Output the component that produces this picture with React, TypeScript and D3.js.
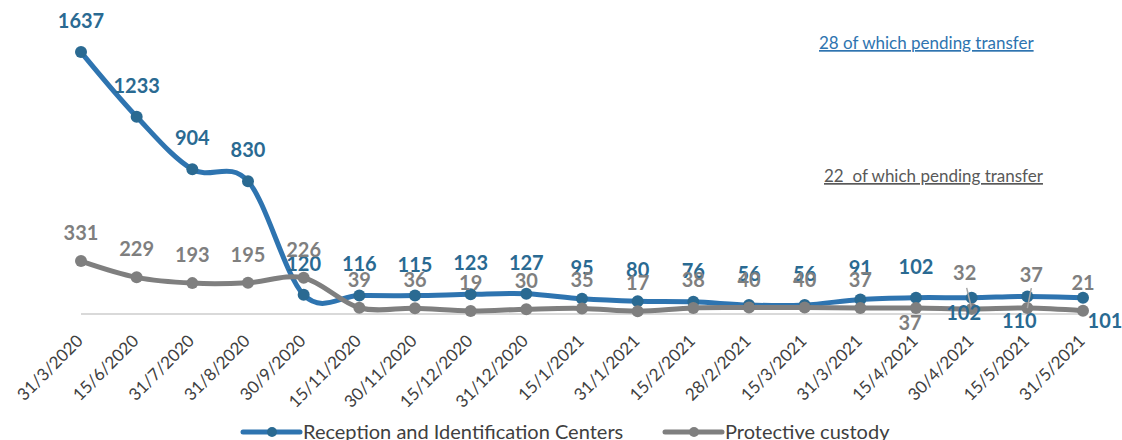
import React, { useEffect, useRef } from 'react';
import * as d3 from 'd3';

const dates = [
  '31/3/2020', '15/6/2020', '31/7/2020', '31/8/2020', '30/9/2020', '15/11/2020',
  '30/11/2020', '15/12/2020', '31/12/2020', '15/1/2021', '31/1/2021', '15/2/2021',
  '28/2/2021', '15/3/2021', '31/3/2021', '15/4/2021', '30/4/2021', '15/5/2021', '31/5/2021',
];

const receptionCenters = [1637, 1233, 904, 830, 120, 116, 115, 123, 127, 95, 80, 76, 56, 56, 91, 102, 102, 110, 101];
const protectiveCustody = [331, 229, 193, 195, 226, 39, 36, 19, 30, 35, 17, 38, 40, 40, 37, 37, 32, 37, 21];

const seriesNames = ['Reception and Identification Centers', 'Protective custody'];
const notes = ['28 of which pending transfer', '22  of which pending transfer'];

const BLUE = '#2E74B0';
const BLUE_DARK = '#2A6A92';
const GREY = '#7F7F7F';
const FONT = 'Lato, "Open Sans", sans-serif';

// hand placed labels, like in the original (index -> [dx, dy])
const blueNudge = { 16: [-8, 22], 17: [-8, 32], 18: [22, 30] };
const greyNudge = { 15: [-6, 22], 16: [-7, -29], 17: [4, -26] };

const App = () => {
  const svgRef = useRef();

  useEffect(() => {
    const svg = d3.select(svgRef.current);
    svg.selectAll('*').remove();

    const x = d3.scalePoint().domain(dates).range([81, 1083]);
    const y = d3.scaleLinear().domain([0, 1800]).range([314, 26]);

    // axis line
    svg.append('line')
      .attr('x1', 81).attr('x2', 1085)
      .attr('y1', y(0)).attr('y2', y(0))
      .attr('stroke', '#D9D9D9').attr('stroke-width', 2);

    // x labels
    svg.append('g')
      .selectAll('text')
      .data(dates)
      .enter()
      .append('text')
      .attr('transform', (d) => `translate(${x(d) + 3},${y(0) + 28}) rotate(-45)`)
      .attr('text-anchor', 'end')
      .attr('font-family', FONT)
      .attr('font-size', 17)
      .attr('fill', '#404040')
      .text((d) => d);

    const line = d3.line()
      .x((d, i) => x(dates[i]))
      .y((d) => y(d))
      .curve(d3.curveCardinal);

    const series = [
      { values: receptionCenters, line: BLUE, dot: BLUE_DARK },
      { values: protectiveCustody, line: GREY, dot: GREY },
    ];

    series.forEach((s) => {
      svg.append('path')
        .datum(s.values)
        .attr('d', line)
        .attr('fill', 'none')
        .attr('stroke', s.line)
        .attr('stroke-width', 5)
        .attr('stroke-linejoin', 'round');

      svg.append('g')
        .selectAll('circle')
        .data(s.values)
        .enter()
        .append('circle')
        .attr('cx', (d, i) => x(dates[i]))
        .attr('cy', (d) => y(d))
        .attr('r', 6)
        .attr('fill', s.dot);
    });

    // leader lines for the moved labels
    [[16, -21, -4], [17, -20, 4]].forEach(([i, top, dx]) => {
      const px = x(dates[i]);
      const py = y(protectiveCustody[i]);
      svg.append('line')
        .attr('x1', px - 5 + (dx > 0 ? 9 : 0)).attr('y1', py + top)
        .attr('x2', px).attr('y2', py)
        .attr('stroke', '#A6A6A6').attr('stroke-width', 1.5);
    });

    const drawLabels = (values, color, baseDy, nudge) => {
      svg.append('g')
        .selectAll('text')
        .data(values)
        .enter()
        .append('text')
        .attr('x', (d, i) => x(dates[i]) + (nudge[i] ? nudge[i][0] : 0))
        .attr('y', (d, i) => y(d) + (nudge[i] ? nudge[i][1] : baseDy))
        .attr('text-anchor', 'middle')
        .attr('font-family', FONT)
        .attr('font-weight', 'bold')
        .attr('font-size', 20)
        .attr('fill', color)
        .text((d) => d);
    };
    drawLabels(receptionCenters, BLUE_DARK, -24, blueNudge);
    drawLabels(protectiveCustody, GREY, -21, greyNudge);

    // pending transfer notes
    svg.append('text')
      .attr('x', 819).attr('y', 49)
      .attr('font-family', FONT).attr('font-size', 17)
      .attr('fill', BLUE)
      .attr('text-decoration', 'underline')
      .text(notes[0]);
    svg.append('text')
      .attr('x', 824).attr('y', 182)
      .attr('font-family', FONT).attr('font-size', 17)
      .attr('fill', '#595959')
      .attr('text-decoration', 'underline')
      .style('white-space', 'pre')
      .text(notes[1]);

    // legend
    const legend = [
      { name: seriesNames[0], x: 243, line: BLUE, dot: BLUE_DARK },
      { name: seriesNames[1], x: 665, line: GREY, dot: GREY },
    ];
    legend.forEach((l) => {
      svg.append('line')
        .attr('x1', l.x).attr('x2', l.x + 57)
        .attr('y1', 432).attr('y2', 432)
        .attr('stroke', l.line).attr('stroke-width', 5)
        .attr('stroke-linecap', 'round');
      svg.append('circle')
        .attr('cx', l.x + 29).attr('cy', 432).attr('r', 5)
        .attr('fill', l.dot);
      svg.append('text')
        .attr('x', l.x + 60).attr('y', 439)
        .attr('font-family', FONT).attr('font-size', 20)
        .attr('fill', '#404040')
        .text(l.name);
    });
  }, []);

  return (
    <svg
      ref={svgRef}
      width={1122}
      height={440}
      style={{ position: 'absolute', left: 0, top: 0, background: '#fff' }}
    />
  );
};

export default App;
